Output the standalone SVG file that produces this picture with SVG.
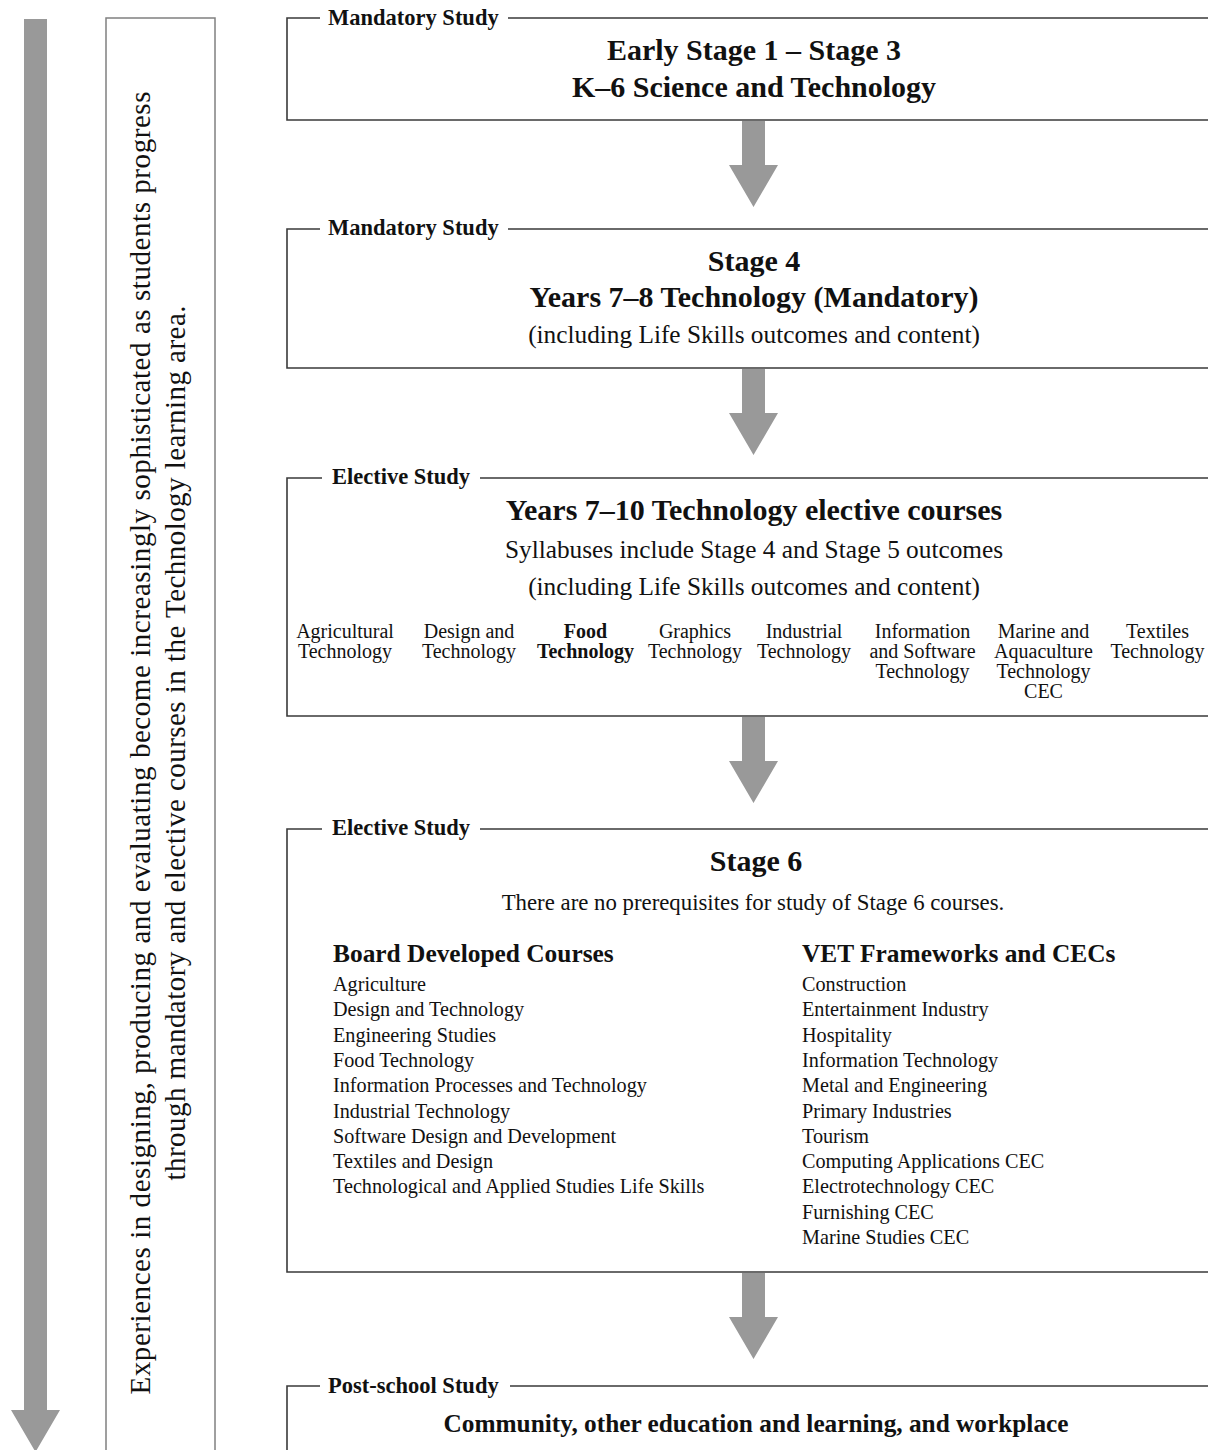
<svg xmlns="http://www.w3.org/2000/svg" width="1208" height="1450" viewBox="0 0 1208 1450">
<style>
.bx{fill:none;stroke:#3a3a3a;stroke-width:1.6}
.lbl{font-family:"Liberation Serif","Times New Roman",serif;font-weight:bold;font-size:22.5px;fill:#111}
.ttl{font-family:"Liberation Serif","Times New Roman",serif;font-weight:bold;font-size:30px;fill:#111;text-anchor:middle}
.ttl2{font-family:"Liberation Serif","Times New Roman",serif;font-weight:bold;font-size:25.3px;fill:#111;text-anchor:middle}
.sub{font-family:"Liberation Serif","Times New Roman",serif;font-size:25.3px;fill:#111;text-anchor:middle}
.note{font-family:"Liberation Serif","Times New Roman",serif;font-size:22.8px;fill:#111;text-anchor:middle}
.crs{font-family:"Liberation Serif","Times New Roman",serif;font-size:20px;fill:#111;text-anchor:middle}
.crsb{font-family:"Liberation Serif","Times New Roman",serif;font-size:20px;font-weight:bold;fill:#111;text-anchor:middle}
.lst{font-family:"Liberation Serif","Times New Roman",serif;font-size:20.2px;fill:#111}
.hd{font-family:"Liberation Serif","Times New Roman",serif;font-weight:bold;font-size:25.4px;fill:#111}
.vt{font-family:"Liberation Serif","Times New Roman",serif;font-size:29px;fill:#111;text-anchor:middle}
.arr{fill:#999}
</style>
<defs>
<path id="dn" d="M-11.5,0 H11.5 V44 H24.5 L0,86 L-24.5,44 H-11.5 Z"/>
</defs>
<rect width="1208" height="1450" fill="#fff"/>

<g id="progress-arrow">
<path class="arr" d="M24,19 H47 V1410 H60 L35.5,1452 L11,1410 H24 Z"/>
</g>

<g id="progress-note">
<rect x="106" y="18" width="109" height="1460" fill="none" stroke="#808080" stroke-width="1.5"/>
<text class="vt" transform="translate(150,743) rotate(-90)" textLength="1303">Experiences in designing, producing and evaluating become increasingly sophisticated as students progress</text>
<text class="vt" transform="translate(185,743) rotate(-90)" textLength="875">through mandatory and elective courses in the Technology learning area.</text>
</g>

<g id="connectors">
<use href="#dn" class="arr" x="753.5" y="121"/>
<use href="#dn" class="arr" x="753.5" y="369"/>
<use href="#dn" class="arr" x="753.5" y="717"/>
<use href="#dn" class="arr" x="753.5" y="1273"/>
</g>

<g id="stage-k6">
<path class="bx" d="M320,18 H287 V120 H1208 M508,18 H1208"/>
<text class="lbl" x="328" y="25">Mandatory Study</text>
<text class="ttl" x="754" y="60">Early Stage 1 – Stage 3</text>
<text class="ttl" x="754" y="97">K–6 Science and Technology</text>
</g>

<g id="stage-4">
<path class="bx" d="M320,229 H287 V368 H1208 M508,229 H1208"/>
<text class="lbl" x="328" y="235">Mandatory Study</text>
<text class="ttl" x="754" y="271">Stage 4</text>
<text class="ttl" x="754" y="307">Years 7–8 Technology (Mandatory)</text>
<text class="sub" x="754" y="343">(including Life Skills outcomes and content)</text>
</g>

<g id="electives-7-10">
<path class="bx" d="M322,478 H287 V716 H1208 M480,478 H1208"/>
<text class="lbl" x="332" y="484">Elective Study</text>
<text class="ttl" x="754" y="520">Years 7–10 Technology elective courses</text>
<text class="sub" x="754" y="558">Syllabuses include Stage 4 and Stage 5 outcomes</text>
<text class="sub" x="754" y="595">(including Life Skills outcomes and content)</text>
<text class="crs" x="345" y="638">Agricultural<tspan x="345" dy="20">Technology</tspan></text>
<text class="crs" x="469" y="638">Design and<tspan x="469" dy="20">Technology</tspan></text>
<text class="crsb" x="585.5" y="638">Food<tspan x="585.5" dy="20">Technology</tspan></text>
<text class="crs" x="695" y="638">Graphics<tspan x="695" dy="20">Technology</tspan></text>
<text class="crs" x="804" y="638">Industrial<tspan x="804" dy="20">Technology</tspan></text>
<text class="crs" x="922.5" y="638">Information<tspan x="922.5" dy="20">and Software</tspan><tspan x="922.5" dy="20">Technology</tspan></text>
<text class="crs" x="1043.5" y="638">Marine and<tspan x="1043.5" dy="20">Aquaculture</tspan><tspan x="1043.5" dy="20">Technology</tspan><tspan x="1043.5" dy="20">CEC</tspan></text>
<text class="crs" x="1157.5" y="638">Textiles<tspan x="1157.5" dy="20">Technology</tspan></text>
</g>

<g id="stage-6">
<path class="bx" d="M322,829 H287 V1272 H1208 M480,829 H1208"/>
<text class="lbl" x="332" y="835">Elective Study</text>
<text class="ttl" x="756" y="871">Stage 6</text>
<text class="note" x="753" y="910">There are no prerequisites for study of Stage 6 courses.</text>
<text class="hd" x="333" y="962">Board Developed Courses</text>
<text class="lst" x="333" y="991">Agriculture<tspan x="333" dy="25.3">Design and Technology</tspan><tspan x="333" dy="25.3">Engineering Studies</tspan><tspan x="333" dy="25.3">Food Technology</tspan><tspan x="333" dy="25.3">Information Processes and Technology</tspan><tspan x="333" dy="25.3">Industrial Technology</tspan><tspan x="333" dy="25.3">Software Design and Development</tspan><tspan x="333" dy="25.3">Textiles and Design</tspan><tspan x="333" dy="25.3">Technological and Applied Studies Life Skills</tspan></text>
<text class="hd" x="802" y="962">VET Frameworks and CECs</text>
<text class="lst" x="802" y="991">Construction<tspan x="802" dy="25.3">Entertainment Industry</tspan><tspan x="802" dy="25.3">Hospitality</tspan><tspan x="802" dy="25.3">Information Technology</tspan><tspan x="802" dy="25.3">Metal and Engineering</tspan><tspan x="802" dy="25.3">Primary Industries</tspan><tspan x="802" dy="25.3">Tourism</tspan><tspan x="802" dy="25.3">Computing Applications CEC</tspan><tspan x="802" dy="25.3">Electrotechnology CEC</tspan><tspan x="802" dy="25.3">Furnishing CEC</tspan><tspan x="802" dy="25.3">Marine Studies CEC</tspan></text>
</g>

<g id="post-school">
<path class="bx" d="M320,1386 H287 V1460 M510,1386 H1208"/>
<text class="lbl" x="328" y="1393">Post-school Study</text>
<text class="ttl2" x="756" y="1432">Community, other education and learning, and workplace</text>
</g>
</svg>
